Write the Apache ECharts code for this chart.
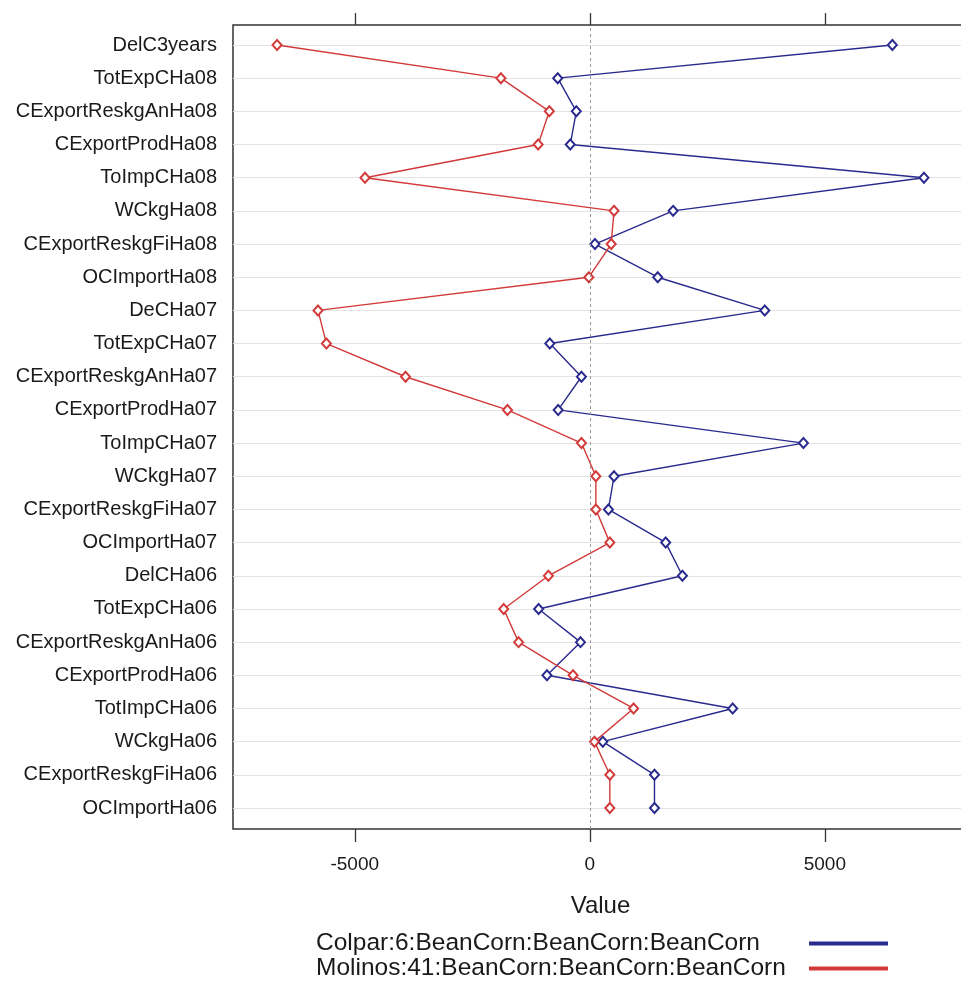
<!DOCTYPE html>
<html>
<head>
<meta charset="utf-8">
<script src="https://cdn.jsdelivr.net/npm/echarts@6/dist/echarts.min.js"></script>
<style>
html,body{margin:0;padding:0;background:#fff;}
#chart{width:961px;height:981px;}
</style>
</head>
<body>
<div id="chart"></div>
<script>
const categories = ['DelC3years','TotExpCHa08','CExportReskgAnHa08','CExportProdHa08','ToImpCHa08','WCkgHa08','CExportReskgFiHa08','OCImportHa08','DeCHa07','TotExpCHa07','CExportReskgAnHa07','CExportProdHa07','ToImpCHa07','WCkgHa07','CExportReskgFiHa07','OCImportHa07','DelCHa06','TotExpCHa06','CExportReskgAnHa06','CExportProdHa06','TotImpCHa06','WCkgHa06','CExportReskgFiHa06','OCImportHa06'];
const colpar = [6436,-683,-287,-416,7108,1772,109,1445,3722,-851,-178,-673,4544,515,396,1614,1970,-1089,-198,-911,3039,277,1376,1376];
const molinos = [-6653,-1891,-861,-1099,-4782,515,455,-20,-5782,-5603,-3920,-1752,-178,129,129,426,-881,-1832,-1515,-356,931,99,426,426];
const xTicks = [-5000, 0, 5000];
const seriesNames = ['Colpar:6:BeanCorn:BeanCorn:BeanCorn','Molinos:41:BeanCorn:BeanCorn:BeanCorn'];
const xMin = -7590, xMax = 8045;

const blue = '#2a2a8e', red = '#d23a3a';
const font = 'Liberation Sans, Arial, sans-serif';

const chart = echarts.init(document.getElementById('chart'), null, {renderer:'canvas'});
chart.setOption({
  backgroundColor:'#fff',
  animation:false,
  textStyle:{fontFamily:font},
  grid:[
    {left:233, top:25, width:735, height:804, show:true, borderColor:'#333', borderWidth:1.5, backgroundColor:'transparent', outerBoundsMode:'none', containLabel:false},
    {left:233, top:45, width:735, height:763, outerBoundsMode:'none', containLabel:false}
  ],
  xAxis:[
    {type:'value', gridIndex:0, position:'bottom', min:xMin, max:xMax,
     name:'Value', nameLocation:'middle', nameGap:65,
     nameTextStyle:{fontSize:24, color:'#1a1a1a', fontFamily:font},
     axisLine:{show:false}, splitLine:{show:false},
     axisTick:{show:true, inside:false, length:13, lineStyle:{color:'#333', width:1.3}, customValues:xTicks},
     axisLabel:{show:true, margin:26, fontSize:19, color:'#1a1a1a', fontFamily:font, customValues:xTicks,
       formatter: v => String(v)}},
    {type:'value', gridIndex:0, position:'top', min:xMin, max:xMax,
     axisLine:{show:false}, splitLine:{show:false},
     axisTick:{show:true, inside:false, length:12, lineStyle:{color:'#333', width:1.3}, customValues:xTicks},
     axisLabel:{show:false}},
    {type:'value', gridIndex:1, min:xMin, max:xMax, show:false}
  ],
  yAxis:[
    {type:'value', gridIndex:0, min:0, max:1, show:false},
    {type:'category', gridIndex:1, data:categories, inverse:true, boundaryGap:false,
     axisLine:{show:false}, axisTick:{show:false},
     axisLabel:{fontSize:20, color:'#1a1a1a', margin:16, fontFamily:font, interval:0},
     splitLine:{show:true, lineStyle:{color:'#e3e3e3', width:1.2}}}
  ],
  legend:{
    data:seriesNames, orient:'vertical', left:316, top:931, padding:0, itemGap:0,
    align:'right', icon:'rect', itemWidth:77, itemHeight:2,
    formatter: n => '{a|' + n + '}',
    textStyle:{fontSize:24.5, color:'#1a1a1a', fontFamily:font, lineHeight:21,
      rich:{a:{width:489, align:'left', fontSize:24.5, lineHeight:21, fontFamily:font, color:'#1a1a1a'}}}
  },
  series:[
    {type:'line', xAxisIndex:0, yAxisIndex:0, data:[], z:1, silent:true,
     markLine:{silent:true, symbol:'none', label:{show:false},
       lineStyle:{color:'#9a9a9a', type:[3,3], width:1}, data:[{xAxis:0}]}},
    {name:seriesNames[0], type:'line', xAxisIndex:2, yAxisIndex:1, data:colpar, z:3,
     symbol:'emptyDiamond', symbolSize:[9,10], showAllSymbol:true,
     lineStyle:{color:blue, width:1.4}, itemStyle:{color:blue, borderColor:blue, borderWidth:1.2}},
    {name:seriesNames[1], type:'line', xAxisIndex:2, yAxisIndex:1, data:molinos, z:4,
     symbol:'emptyDiamond', symbolSize:[9,10], showAllSymbol:true,
     lineStyle:{color:red, width:1.4}, itemStyle:{color:red, borderColor:red, borderWidth:1.2}}
  ]
});
</script>
</body>
</html>
